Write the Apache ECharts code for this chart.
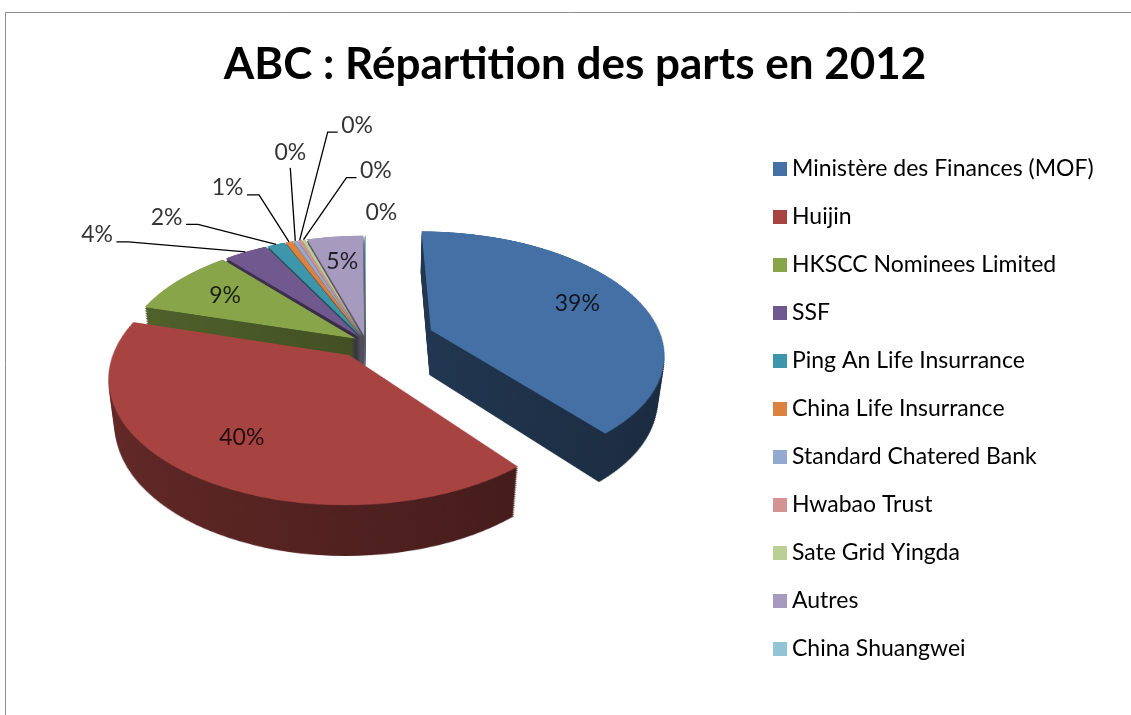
<!DOCTYPE html>
<html lang="fr">
<head>
<meta charset="UTF-8">
<title>ABC : Répartition des parts en 2012</title>
<script src="https://cdn.jsdelivr.net/npm/echarts@6.0.0/dist/echarts.min.js"></script>
<style>
    html, body { margin: 0; padding: 0; background: #fff; overflow: hidden; width: 1131px; height: 715px; }
    #wrap { position: absolute; left: 0; top: 0; width: 1131px; height: 715px; z-index: 1; }
    #stage { position: absolute; left: 0; top: 0; width: 1131px; height: 715px; transform-style: preserve-3d; }
    .layer { position: absolute; }
    #texts { position: absolute; left: 0; top: 0; width: 1131px; height: 715px; z-index: 2; }
</style>
</head>
<body>
<div id="wrap"><div id="stage"></div></div>
<div id="texts"></div>
<script>
    // shareholders, in pie order (clockwise from 12 o'clock)
    var names = ['Ministère des Finances (MOF)', 'Huijin', 'HKSCC Nominees Limited', 'SSF',
        'Ping An Life Insurrance', 'China Life Insurrance', 'Standard Chatered Bank',
        'Hwabao Trust', 'Sate Grid Yingda', 'Autres', 'China Shuangwei'];
    var shares = [39.2, 40.3, 9.1, 3.6, 1.5, 0.6, 0.4, 0.3, 0.3, 4.6, 0.1];
    var colors = ['#4470A5', '#A74441', '#88A54A', '#71588F', '#3E96AB', '#DB823E',
        '#93A9CF', '#D49391', '#B9CF96', '#A69ABE', '#92C4D6'];
    // how far each slice is pulled out of the pie
    var explode = [70, 30, 12, 12, 12, 12, 12, 12, 12, 12, 12];

    // leader lines of the thin slices: [dx, dy, tail] in px from the slice rim
    // (tail < 0: label on the left, > 0: on the right, 0: above, null: no line)
    var leaders = {
        3: [-117, -10, -12],
        4: [-78, -20, -12],
        5: [-30, -47, -12],
        6: [-5, -73, 0],
        7: [28, -108, 10],
        8: [43, -62, 10],
        10: [16, -23, null]
    };

    var W = 1131, H = 715;
    // 3d pie: flat disc tilted with css perspective, thickness made of stacked layers
    var cx = 366, cy = 342, R = 232, tiltDeg = 59, persp = 1166, depth = 54;
    var box = { left: 50, top: 10, width: 680, height: 690 };
    var font = 'Lato';

    var wrap = document.getElementById('wrap');
    wrap.style.perspective = persp + 'px';
    wrap.style.perspectiveOrigin = cx + 'px ' + cy + 'px';
    var stage = document.getElementById('stage');
    stage.style.transformOrigin = cx + 'px ' + cy + 'px';
    stage.style.transform = 'rotateX(' + tiltDeg + 'deg)';

    function shade(hex, k) {
        var n = parseInt(hex.slice(1), 16);
        return 'rgb(' + Math.round((n >> 16) * k) + ',' + Math.round((n >> 8 & 255) * k) + ',' + Math.round((n & 255) * k) + ')';
    }

    var outs = explode.filter(function (v, i) { return explode.indexOf(v) === i; });

    function pieLayer(out, side) {
        return {
            type: 'pie', silent: true, animation: false,
            center: [cx - box.left, cy - box.top], radius: R, startAngle: 90, clockwise: true,
            selectedMode: 'multiple', selectedOffset: out,
            label: { show: false }, labelLine: { show: false }, emphasis: { disabled: true },
            data: names.map(function (n, i) {
                var c = side ? {
                    type: 'linear', x: 60, y: 0, x2: 620, y2: 0, global: true,
                    colorStops: [{ offset: 0, color: shade(colors[i], 0.6) }, { offset: 1, color: shade(colors[i], 0.34) }]
                } : colors[i];
                return { name: n, value: shares[i], selected: true, itemStyle: { opacity: explode[i] === out ? 1 : 0, color: c } };
            })
        };
    }

    var depths = [];
    for (var d = depth; d > 0; d -= 2) depths.push(d);
    depths.push(0);
    depths.forEach(function (d) {
        var el = document.createElement('div');
        el.className = 'layer';
        el.style.left = box.left + 'px';
        el.style.top = box.top + 'px';
        el.style.width = box.width + 'px';
        el.style.height = box.height + 'px';
        el.style.transform = 'translateZ(' + (-d) + 'px)';
        stage.appendChild(el);
        echarts.init(el).setOption({
            animation: false,
            series: outs.map(function (o) { return pieLayer(o, d > 0); })
        });
    });

    // disc point (px from centre, y down) -> screen offset from centre
    var ca = Math.cos(tiltDeg * Math.PI / 180), sa = Math.sin(tiltDeg * Math.PI / 180);
    function project(px, py) {
        var k = persp / (persp - py * sa);
        return [px * k, py * ca * k];
    }

    // label anchors, in px from the pie centre (y down), placed on a full-size grid
    var total = shares.reduce(function (a, b) { return a + b; }, 0);
    var labelPoints = [], leaderLines = [];
    var acc = 0;
    shares.forEach(function (v, i) {
        var mid = (acc + v / 2) / total * 2 * Math.PI;
        acc += v;
        var sn = Math.sin(mid), cs = Math.cos(mid);
        var pct = Math.round(v);
        var lead = leaders[i];
        if (!lead) {
            var rr = explode[i] + 0.72 * R;
            var p = project(rr * sn, -rr * cs);
            labelPoints.push({ value: [p[0], p[1], pct], label: { position: 'inside' } });
            return;
        }
        var rim = project((explode[i] + R) * sn, -(explode[i] + R) * cs);
        var bx = rim[0] + lead[0], by = rim[1] + lead[1];
        if (lead[2] === null) {
            labelPoints.push({ value: [bx, by, pct], label: { position: 'inside' } });
            return;
        }
        var tx = bx + lead[2];
        leaderLines.push({ coords: [rim, [bx, by], [tx, by]] });
        var pos = lead[2] < 0 ? 'left' : lead[2] > 0 ? 'right' : 'top';
        labelPoints.push({ value: [tx, pos === 'top' ? by : by - 7, pct], label: { position: pos } });
    });

    var textChart = echarts.init(document.getElementById('texts'));
    textChart.setOption({
        animation: false,
        grid: { left: 0, right: 0, top: 0, bottom: 0 },
        xAxis: { type: 'value', min: -cx, max: W - cx, show: false },
        yAxis: { type: 'value', min: -cy, max: H - cy, inverse: true, show: false },
        legend: {
            orient: 'vertical', left: 768, top: 152,
            icon: 'rect', itemWidth: 14, itemHeight: 14, itemGap: 24,
            textStyle: { fontFamily: font, fontSize: 23, lineHeight: 24, color: '#000' },
            data: names.map(function (n, i) { return { name: n, itemStyle: { color: colors[i], opacity: 1 } }; })
        },
        graphic: [{
            type: 'rect', silent: true,
            shape: { x: 5.5, y: 12.5, width: 1200, height: 800 },
            style: { fill: 'none', stroke: '#8c8c8c', lineWidth: 1 }
        }, {
            type: 'text', silent: true, x: 575, y: 65,
            style: {
                text: 'ABC : Répartition des parts en 2012', fill: '#000',
                font: 'bold 44px ' + font, align: 'center', verticalAlign: 'middle'
            }
        }],
        series: [{
            // invisible copy of the pie, only to feed the legend
            type: 'pie', silent: true, center: [cx, cy], radius: 10,
            itemStyle: { color: 'rgba(0,0,0,0)' }, label: { show: false }, labelLine: { show: false },
            emphasis: { disabled: true },
            data: names.map(function (n, i) { return { name: n, value: shares[i] }; })
        }, {
            type: 'lines', coordinateSystem: 'cartesian2d', polyline: true, silent: true,
            lineStyle: { color: '#000', width: 1.3, opacity: 1 },
            data: leaderLines
        }, {
            type: 'scatter', silent: true, clip: false, symbolSize: 1,
            itemStyle: { color: 'rgba(0,0,0,0)' },
            label: {
                show: true, fontFamily: font, fontSize: 23, color: '#000', distance: 3,
                formatter: function (p) { return p.value[2] + '%'; }
            },
            data: labelPoints
        }]
    });
</script>
</body>
</html>
